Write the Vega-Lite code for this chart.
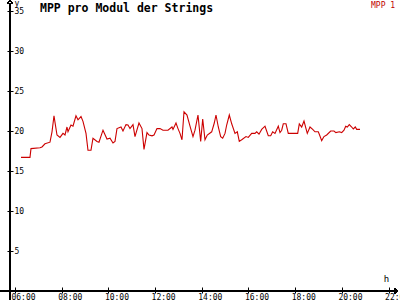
{
  "$schema": "https://vega.github.io/schema/vega-lite/v6.json",
  "width": 398,
  "height": 297,
  "autosize": "none",
  "padding": {"left": 0, "top": 3, "right": 2, "bottom": 0},
  "background": "white",
  "config": {"view": {"stroke": null}, "font": "DejaVu Sans Mono"},
  "title": {"text": "MPP pro Modul der Strings", "anchor": "start", "frame": "group", "font": "DejaVu Sans Mono", "fontSize": 11.5, "fontWeight": "bold", "color": "black", "dx": 40, "offset": 0, "dy": 25, "baseline": "alphabetic"},
  "data": {"values": [
    {"t": 6.257, "v": 16.7}, {"t": 6.642, "v": 16.7}, {"t": 6.685, "v": 17.8}, {"t": 7.071, "v": 17.9}, {"t": 7.156, "v": 18.0},
    {"t": 7.285, "v": 18.4}, {"t": 7.499, "v": 18.6}, {"t": 7.585, "v": 19.9}, {"t": 7.670, "v": 21.9}, {"t": 7.799, "v": 19.5},
    {"t": 7.927, "v": 19.2}, {"t": 8.056, "v": 19.7}, {"t": 8.141, "v": 19.5}, {"t": 8.227, "v": 20.5}, {"t": 8.270, "v": 19.9},
    {"t": 8.398, "v": 20.75}, {"t": 8.484, "v": 20.6}, {"t": 8.612, "v": 21.9}, {"t": 8.698, "v": 21.4}, {"t": 8.827, "v": 21.8},
    {"t": 8.912, "v": 21.2}, {"t": 9.041, "v": 19.7}, {"t": 9.126, "v": 17.6}, {"t": 9.255, "v": 17.6}, {"t": 9.340, "v": 19.1},
    {"t": 9.512, "v": 18.7}, {"t": 9.597, "v": 18.6}, {"t": 9.769, "v": 20.1}, {"t": 9.940, "v": 19.0}, {"t": 10.069, "v": 19.1},
    {"t": 10.197, "v": 18.5}, {"t": 10.283, "v": 18.7}, {"t": 10.368, "v": 20.3}, {"t": 10.540, "v": 20.5}, {"t": 10.625, "v": 20.0},
    {"t": 10.754, "v": 20.8}, {"t": 10.839, "v": 20.75}, {"t": 10.925, "v": 20.3}, {"t": 11.054, "v": 20.8}, {"t": 11.139, "v": 19.3},
    {"t": 11.310, "v": 21.0}, {"t": 11.439, "v": 20.3}, {"t": 11.525, "v": 17.7}, {"t": 11.653, "v": 19.8}, {"t": 11.739, "v": 19.5},
    {"t": 11.867, "v": 19.4}, {"t": 11.953, "v": 19.5}, {"t": 12.081, "v": 20.3}, {"t": 12.210, "v": 20.3}, {"t": 12.338, "v": 20.1},
    {"t": 12.552, "v": 20.1}, {"t": 12.724, "v": 20.5}, {"t": 12.767, "v": 20.2}, {"t": 12.895, "v": 21.0}, {"t": 12.981, "v": 20.3},
    {"t": 13.066, "v": 19.7}, {"t": 13.152, "v": 18.9}, {"t": 13.238, "v": 22.4}, {"t": 13.366, "v": 22.0}, {"t": 13.495, "v": 20.6},
    {"t": 13.623, "v": 19.3}, {"t": 13.709, "v": 20.1}, {"t": 13.837, "v": 22.0}, {"t": 13.953, "v": 18.7}, {"t": 14.039, "v": 21.5},
    {"t": 14.137, "v": 18.9}, {"t": 14.236, "v": 19.5}, {"t": 14.424, "v": 19.9}, {"t": 14.535, "v": 21.0}, {"t": 14.608, "v": 22.0},
    {"t": 14.707, "v": 20.5}, {"t": 14.809, "v": 19.3}, {"t": 14.895, "v": 19.1}, {"t": 14.994, "v": 19.7}, {"t": 15.066, "v": 20.75},
    {"t": 15.178, "v": 22.0}, {"t": 15.281, "v": 20.9}, {"t": 15.422, "v": 19.7}, {"t": 15.521, "v": 19.9}, {"t": 15.606, "v": 18.7},
    {"t": 15.709, "v": 18.9}, {"t": 15.893, "v": 19.3}, {"t": 15.991, "v": 19.2}, {"t": 16.137, "v": 19.7}, {"t": 16.278, "v": 19.7},
    {"t": 16.351, "v": 19.9}, {"t": 16.450, "v": 19.6}, {"t": 16.565, "v": 20.2}, {"t": 16.707, "v": 20.6}, {"t": 16.848, "v": 19.4},
    {"t": 16.951, "v": 19.4}, {"t": 17.036, "v": 19.9}, {"t": 17.135, "v": 19.7}, {"t": 17.276, "v": 20.6}, {"t": 17.349, "v": 19.8},
    {"t": 17.422, "v": 20.1}, {"t": 17.490, "v": 20.9}, {"t": 17.606, "v": 20.9}, {"t": 17.704, "v": 19.7}, {"t": 18.107, "v": 19.7},
    {"t": 18.176, "v": 20.9}, {"t": 18.278, "v": 20.5}, {"t": 18.377, "v": 21.25}, {"t": 18.463, "v": 20.3}, {"t": 18.518, "v": 19.7},
    {"t": 18.634, "v": 20.5}, {"t": 18.750, "v": 20.2}, {"t": 18.848, "v": 19.9}, {"t": 18.989, "v": 19.9}, {"t": 19.032, "v": 19.6},
    {"t": 19.135, "v": 18.8}, {"t": 19.233, "v": 19.3}, {"t": 19.349, "v": 19.5}, {"t": 19.520, "v": 20.0}, {"t": 19.662, "v": 20.0},
    {"t": 19.743, "v": 19.8}, {"t": 19.889, "v": 19.9}, {"t": 19.991, "v": 19.8}, {"t": 20.090, "v": 20.1}, {"t": 20.163, "v": 20.6},
    {"t": 20.232, "v": 20.5}, {"t": 20.317, "v": 20.8}, {"t": 20.420, "v": 20.5}, {"t": 20.488, "v": 20.25}, {"t": 20.574, "v": 20.5},
    {"t": 20.634, "v": 20.2}, {"t": 20.775, "v": 20.2}
  ]},
  "layer": [
    {
      "mark": {"type": "rule", "color": "black", "strokeWidth": 1},
      "encoding": {"x": {"datum": 5.786, "type": "quantitative", "scale": {"domain": [5.358, 22.403], "nice": false, "zero": false}}}
    },
    {
      "mark": {"type": "rule", "color": "black", "strokeWidth": 1},
      "encoding": {"y": {"datum": 0, "type": "quantitative", "scale": {"domain": [-1.125, 36], "nice": false, "zero": false}}}
    },
    {
      "mark": {"type": "line", "strokeWidth": 1.1, "interpolate": "linear"},
      "encoding": {
        "x": {"field": "t", "type": "quantitative", "scale": {"domain": [5.358, 22.403], "nice": false, "zero": false},
          "axis": {"orient": "bottom", "offset": -13, "values": [6, 8, 10, 12, 14, 16, 18, 20, 22],
            "labelExpr": "(datum.value < 10 ? '0' : '') + datum.value + ':00'",
            "domain": false, "grid": false, "tickSize": 6, "tickColor": "black", "tickWidth": 1,
            "labelAlign": "left", "labelOffset": -4, "labelPadding": 0, "labelBaseline": "top",
            "labelFont": "DejaVu Sans Mono", "labelFontSize": 8, "labelColor": "black", "labelFlush": false, "labelOverlap": false,
            "title": "h", "titleX": 386, "titleY": -4, "titleAngle": 0, "titleAlign": "center", "titleBaseline": "bottom",
            "titleFont": "DejaVu Sans Mono", "titleFontWeight": "normal", "titleFontSize": 9, "titleColor": "black"}},
        "y": {"field": "v", "type": "quantitative", "scale": {"domain": [-1.125, 36], "nice": false, "zero": false},
          "axis": {"orient": "left", "offset": -13, "values": [5, 10, 15, 20, 25, 30, 35],
            "domain": false, "grid": false, "tickSize": 6, "tickColor": "black", "tickWidth": 1,
            "labelAlign": "left", "labelPadding": -7, "labelBaseline": "middle",
            "labelFont": "DejaVu Sans Mono", "labelFontSize": 8, "labelColor": "black", "labelFlush": false, "labelOverlap": false,
            "title": "y", "titleX": 1, "titleY": -4, "titleAngle": 0, "titleAlign": "left", "titleBaseline": "top",
            "titleFont": "DejaVu Sans Mono", "titleFontWeight": "normal", "titleFontSize": 8, "titleColor": "black"}},
        "color": {"datum": "MPP 1", "type": "nominal", "scale": {"range": ["#cc0000"]},
          "legend": {"orient": "none", "legendX": 363, "legendY": -1, "title": null, "symbolSize": 0, "symbolStrokeWidth": 0,
            "symbolOpacity": 0, "labelOffset": 0, "labelFont": "DejaVu Sans Mono", "labelFontSize": 8, "labelColor": "#c00000", "padding": 0}}
      }
    },
    {
      "mark": {"type": "point", "shape": "M-1,1.5L0,0L1,1.5", "size": 18, "filled": false, "color": "black", "strokeWidth": 1, "opacity": 1},
      "encoding": {
        "x": {"datum": 5.786, "type": "quantitative", "scale": {"domain": [5.358, 22.403], "nice": false, "zero": false}},
        "y": {"datum": 36.375, "type": "quantitative", "scale": {"domain": [-1.125, 36], "nice": false, "zero": false}}
      }
    },
    {
      "mark": {"type": "point", "shape": "M-1.5,-1L0,0L-1.5,1", "size": 18, "filled": false, "color": "black", "strokeWidth": 1, "opacity": 1},
      "encoding": {
        "x": {"datum": 22.403, "type": "quantitative", "scale": {"domain": [5.358, 22.403], "nice": false, "zero": false}},
        "y": {"datum": 0, "type": "quantitative", "scale": {"domain": [-1.125, 36], "nice": false, "zero": false}}
      }
    }
  ]
}
